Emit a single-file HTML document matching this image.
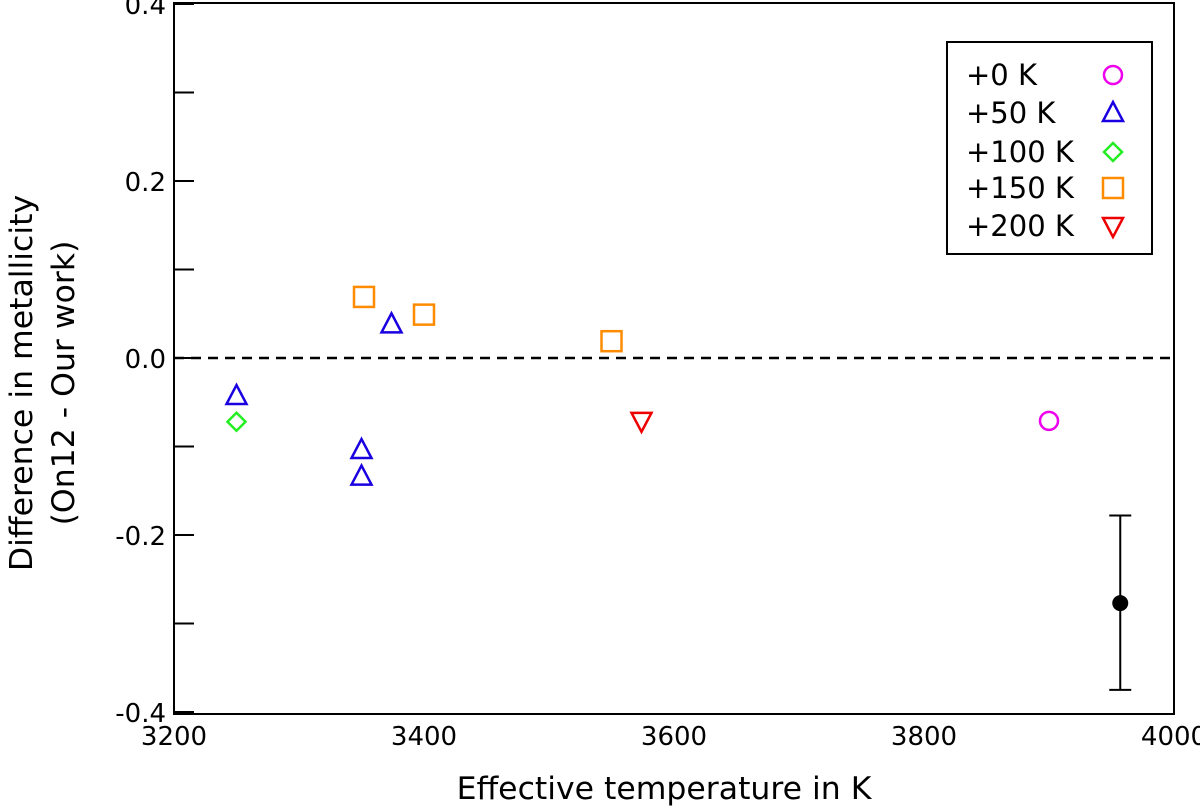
<!DOCTYPE html>
<html><head><meta charset="utf-8"><style>
body{margin:0;background:#fff}
svg{display:block;font-family:"DejaVu Sans","Liberation Sans",sans-serif}
</style></head><body>
<svg id="chart" width="1200" height="812">
<rect x="174" y="3" width="1000" height="711" fill="none" stroke="#000" stroke-width="2"/>
<g id="yaxis"></g>
<g id="xaxis"></g>
<line x1="174" x2="1174" y1="358" y2="358" stroke="#000" stroke-width="2.5" stroke-dasharray="10,7"/>
<g id="marks"></g>
<text x="664" y="799" font-size="31.5" text-anchor="middle">Effective temperature in K</text>
<text transform="translate(32,383) rotate(-90)" font-size="31.5" text-anchor="middle"><tspan x="0" dy="0">Difference in metallicity</tspan><tspan x="0" dy="42">(On12 - Our work)</tspan></text>
<g>
<rect x="947" y="42" width="205" height="212" fill="#fff" stroke="#000" stroke-width="2"/>
<g id="legend"></g>
</g>
</svg>
<script>
const xTicks=[3200,3400,3600,3800,4000];
const yTicksMajor=[0.4,0.2,0.0,-0.2,-0.4];
const yTickLabels=["0.4","0.2","0.0","-0.2","-0.4"];
const yTicksMinor=[0.3,0.1,-0.1,-0.3];
const circT=[3900], circD=[-0.071];
const triT=[3250,3374,3350,3350], triD=[-0.043,0.038,-0.104,-0.134];
const diaT=[3250], diaD=[-0.072];
const sqT=[3352,3400,3550], sqD=[0.069,0.049,0.019];
const dtriT=[3574], dtriD=[-0.071];
const errT=[3957], errD=[-0.277], errLo=[-0.375], errHi=[-0.178];
const legendLabels=["+0 K","+50 K","+100 K","+150 K","+200 K"];
const X=t=>174+(t-3200)*1.25;
const Y=v=>358-v*885;
const NS="http://www.w3.org/2000/svg";
function mk(tag,attrs,parent){const e=document.createElementNS(NS,tag);for(const k in attrs)e.setAttribute(k,attrs[k]);document.getElementById(parent).appendChild(e);return e;}
yTicksMajor.forEach((v,i)=>{
 const l=mk('line',{x1:174,x2:194,y1:Y(v),y2:Y(v),stroke:'#000','stroke-width':2},'yaxis');
 
 
 const t=mk('text',{x:166,y:Y(v)+10,'font-size':26,'text-anchor':'end'},'yaxis');t.textContent=yTickLabels[i];
 
 
});
yTicksMinor.forEach(v=>{
 const l=mk('line',{x1:174,x2:194,y1:Y(v),y2:Y(v),stroke:'#000','stroke-width':2},'yaxis');
 
 
});
xTicks.forEach(v=>{
 const t=mk('text',{x:X(v),y:745,'font-size':26,'text-anchor':'middle'},'xaxis');t.textContent=String(v);
 
 
});
function circle(cx,cy,g){return mk('circle',{cx:cx,cy:cy,r:9,fill:'none',stroke:'#ee00ee','stroke-width':2.5},g);}
function tri(cx,cy,g){return mk('polygon',{points:`${cx},${cy-11} ${cx-10},${cy+8} ${cx+10},${cy+8}`,fill:'none',stroke:'#1a00e0','stroke-width':2.5},g);}
function dia(cx,cy,g){return mk('polygon',{points:`${cx},${cy-9} ${cx+9},${cy} ${cx},${cy+9} ${cx-9},${cy}`,fill:'none',stroke:'#22ee22','stroke-width':2.5},g);}
function sq(cx,cy,g){return mk('rect',{x:cx-10,y:cy-10,width:20,height:20,fill:'none',stroke:'#ff8c00','stroke-width':2.5},g);}
function dtri(cx,cy,g){return mk('polygon',{points:`${cx},${cy+11} ${cx-10},${cy-8} ${cx+10},${cy-8}`,fill:'none',stroke:'#ee0000','stroke-width':2.5},g);}
const series=[[circT,circD,circle,'circle-point'],[triT,triD,tri,'triangle-point'],[diaT,diaD,dia,'diamond-point'],[sqT,sqD,sq,'square-point'],[dtriT,dtriD,dtri,'down-triangle-point']];
series.forEach(([ts,ds,fn,name])=>{ts.forEach((t,i)=>{const e=fn(X(t),Y(ds[i]),'marks');
 
 });});
errT.forEach((t,i)=>{
 const x=X(t);
 const l=mk('path',{d:`M${x},${Y(errHi[i])}V${Y(errLo[i])}M${x-11},${Y(errHi[i])}H${x+11}M${x-11},${Y(errLo[i])}H${x+11}`,stroke:'#000','stroke-width':2,fill:'none'},'marks');
 
 
 const c=mk('circle',{cx:x,cy:Y(errD[i]),r:8,fill:'#000'},'marks');
 
 
});
const rowsY=[75,113,152,188,226];
legendLabels.forEach((lab,i)=>{
 const t=mk('text',{x:966,y:rowsY[i]+10,'font-size':29},'legend');t.textContent=lab;
 
 
 const e=series[i][2](1113,rowsY[i],'legend');
 
 
});
</script>
</body></html>
